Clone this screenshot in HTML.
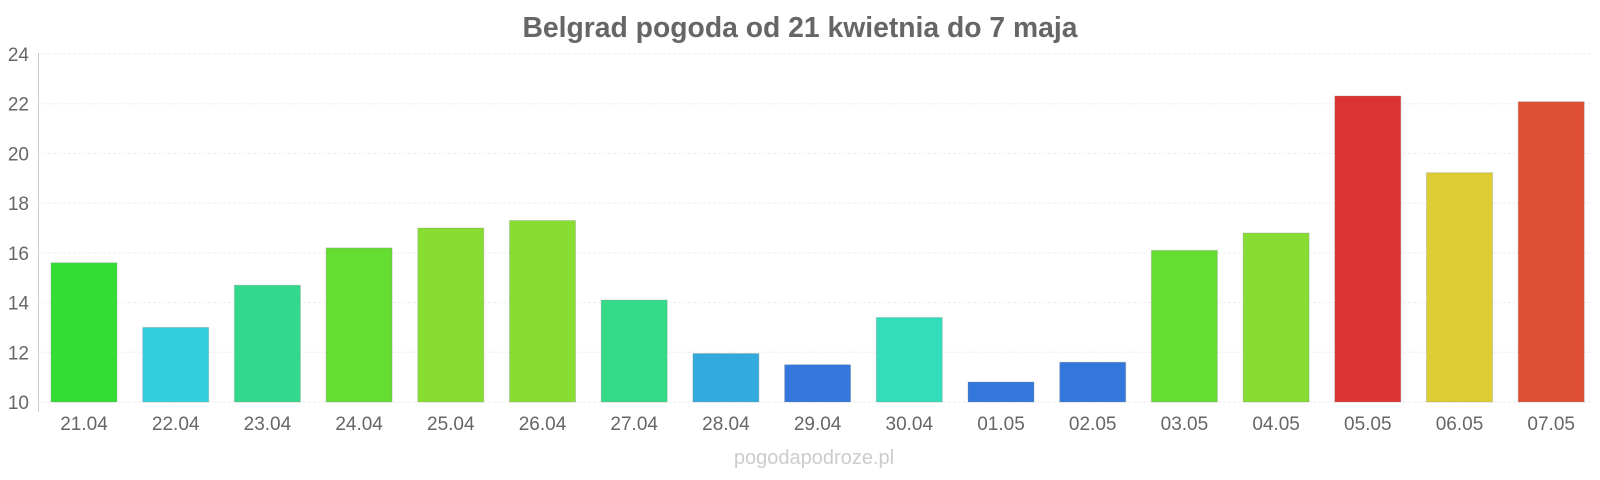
<!DOCTYPE html><html><head><meta charset="utf-8"><style>body{margin:0;background:#fff}svg{display:block}text{font-family:"Liberation Sans",sans-serif}</style></head><body>
<svg width="1600" height="480" xmlns="http://www.w3.org/2000/svg">
<text x="800" y="37" text-anchor="middle" font-size="28.3" font-weight="bold" fill="#666">Belgrad pogoda od 21 kwietnia do 7 maja</text>
<g stroke="#eee" stroke-width="1" stroke-dasharray="3,2">
<line x1="38" y1="54" x2="1592" y2="54"/><line x1="38" y1="103.7" x2="1592" y2="103.7"/><line x1="38" y1="153.4" x2="1592" y2="153.4"/><line x1="38" y1="203.1" x2="1592" y2="203.1"/><line x1="38" y1="252.9" x2="1592" y2="252.9"/><line x1="38" y1="302.6" x2="1592" y2="302.6"/><line x1="38" y1="352.3" x2="1592" y2="352.3"/><line x1="38" y1="402" x2="1592" y2="402"/>
</g>
<line x1="38.5" y1="53" x2="38.5" y2="412" stroke="#ccc"/>
<g font-size="19" fill="#666" text-anchor="end">
<text x="29" y="61">24</text><text x="29" y="110.7">22</text><text x="29" y="160.4">20</text><text x="29" y="210.1">18</text><text x="29" y="259.9">16</text><text x="29" y="309.6">14</text><text x="29" y="359.3">12</text><text x="29" y="409">10</text>
</g>
<g stroke-opacity="0.3" stroke="#888">
<rect x="51" y="262.8" width="66" height="139.2" fill="#33dd33"/>
<rect x="142.7" y="327.4" width="66" height="74.6" fill="#33cfdd"/>
<rect x="234.4" y="285.2" width="66" height="116.8" fill="#33d88c"/>
<rect x="326.1" y="247.9" width="66" height="154.1" fill="#66dd33"/>
<rect x="417.8" y="228" width="66" height="174" fill="#88dd33"/>
<rect x="509.5" y="220.5" width="66" height="181.5" fill="#88dd33"/>
<rect x="601.2" y="300" width="66" height="102" fill="#33db88"/>
<rect x="692.9" y="353.5" width="66" height="48.5" fill="#33aadd"/>
<rect x="784.6" y="364.7" width="66" height="37.3" fill="#3377dd"/>
<rect x="876.3" y="317.5" width="66" height="84.5" fill="#33ddbb"/>
<rect x="968" y="382" width="66" height="20" fill="#3377dd"/>
<rect x="1059.7" y="362.2" width="66" height="39.8" fill="#3377dd"/>
<rect x="1151.4" y="250.4" width="66" height="151.6" fill="#66dd33"/>
<rect x="1243.1" y="233" width="66" height="169" fill="#88dd33"/>
<rect x="1334.8" y="96" width="66" height="306" fill="#dd3333"/>
<rect x="1426.5" y="172.7" width="66" height="229.3" fill="#ddcc33"/>
<rect x="1518.2" y="101.7" width="66" height="300.3" fill="#dd5033"/>
</g>
<g font-size="19" fill="#666" text-anchor="middle">
<text x="84" y="430">21.04</text><text x="175.7" y="430">22.04</text><text x="267.4" y="430">23.04</text><text x="359.1" y="430">24.04</text><text x="450.8" y="430">25.04</text><text x="542.5" y="430">26.04</text><text x="634.2" y="430">27.04</text><text x="725.9" y="430">28.04</text><text x="817.6" y="430">29.04</text><text x="909.3" y="430">30.04</text><text x="1001" y="430">01.05</text><text x="1092.7" y="430">02.05</text><text x="1184.4" y="430">03.05</text><text x="1276.1" y="430">04.05</text><text x="1367.8" y="430">05.05</text><text x="1459.5" y="430">06.05</text><text x="1551.2" y="430">07.05</text>
</g>
<text x="814" y="464" text-anchor="middle" font-size="20" fill="#ccc">pogodapodroze.pl</text>
</svg>
</body></html>
